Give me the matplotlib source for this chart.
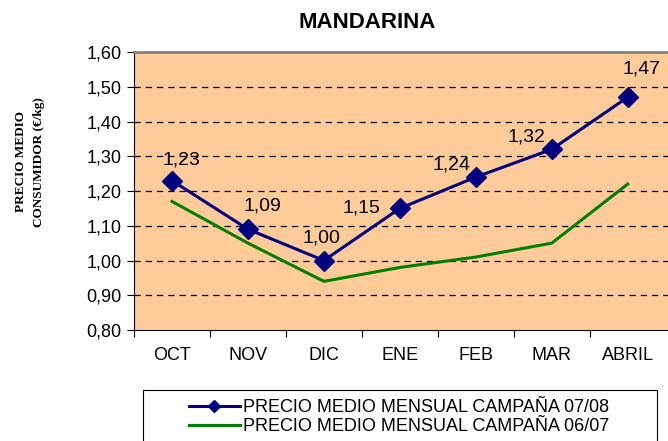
import numpy as np
import matplotlib
matplotlib.use('Agg')
import matplotlib.pyplot as plt
from matplotlib.patches import Rectangle

plt.rcParams['font.family'] = ['Liberation Sans', 'DejaVu Sans']

# Data
months = ['OCT', 'NOV', 'DIC', 'ENE', 'FEB', 'MAR', 'ABRIL']
precio_0708 = [1.23, 1.09, 1.00, 1.15, 1.24, 1.32, 1.47]
precio_0607 = [1.17, 1.05, 0.94, 0.98, 1.01, 1.05, 1.22]
yticks = [0.80, 0.90, 1.00, 1.10, 1.20, 1.30, 1.40, 1.50, 1.60]

label_0708 = 'PRECIO MEDIO MENSUAL CAMPAÑA 07/08'
label_0607 = 'PRECIO MEDIO MENSUAL CAMPAÑA 06/07'

# pixel offsets of the value labels relative to each marker
label_offsets = [(9, 21), (14, 23), (-2, 23), (-38, 0), (-24, 12), (-25, 12), (14, 28)]

W, H = 668, 441
fig = plt.figure(figsize=(W / 100, H / 100), dpi=100)
ax = fig.add_axes([134 / W, 1 - 330 / H, (W - 134) / W, (330 - 52) / H])
ax.set_facecolor('#FFCC99')

x = np.arange(len(months))
ax.plot(x, precio_0607, color='#008000', lw=2.2, label=label_0607, zorder=3)
ax.plot(x, precio_0708, color='#000080', lw=2.2, marker='D', markersize=10,
        label=label_0708, zorder=4)

for xi, v, off in zip(x, precio_0708, label_offsets):
    ax.annotate(('%.2f' % v).replace('.', ','), (xi, v), xytext=off,
                textcoords='offset pixels', ha='center', va='center', fontsize=14)

ax.set_ylim(0.80, 1.60)
ax.set_xlim(-0.5, 6.53)
ax.set_yticks(yticks)
ax.set_yticklabels([('%.2f' % t).replace('.', ',') for t in yticks], fontsize=13)
for t in yticks[1:-1]:
    ax.axhline(t, color='black', lw=0.9, ls=(0, (5, 4)), zorder=1)

# category boundaries as tick marks, names in between
ax.set_xticks(np.arange(len(months)) - 0.5)
ax.set_xticklabels([])
ax.set_xticks(x, minor=True)
ax.set_xticklabels(months, minor=True, fontsize=13)
ax.tick_params(axis='x', which='major', length=5, direction='out')
ax.tick_params(axis='x', which='minor', length=0, pad=12)
ax.tick_params(axis='y', length=5, direction='out', pad=4)

ax.spines['right'].set_visible(False)
ax.spines['top'].set_color('#808080')
ax.spines['top'].set_linewidth(2)

fig.text(367 / W, 1 - 22 / H, 'MANDARINA', ha='center', va='center',
         fontsize=16, fontweight='bold')
fig.text(30 / W, 1 - 162 / H, 'PRECIO MEDIO\nCONSUMIDOR (€/kg)', rotation=90,
         ha='center', va='center', multialignment='center', fontsize=9.5,
         fontweight='bold', family=['Liberation Serif', 'DejaVu Serif'],
         linespacing=1.6)

# legend box (cut by the bottom edge as in the reference)
fig.patches.append(Rectangle((143 / W, -0.02), (657 - 143) / W, 0.02 + 1 - 390 / H,
                             transform=fig.transFigure, facecolor='white',
                             edgecolor='black', lw=0.8))
handles, labels = ax.get_legend_handles_labels()
leg = fig.legend(handles[::-1], labels[::-1], loc='upper left',
                 bbox_to_anchor=(180 / W, 1 - 390 / H), frameon=False,
                 fontsize=13, borderpad=0, handlelength=2.8, handletextpad=0.2,
                 labelspacing=0.12, markerscale=0.65)

fig.savefig('out.png', dpi=100)
